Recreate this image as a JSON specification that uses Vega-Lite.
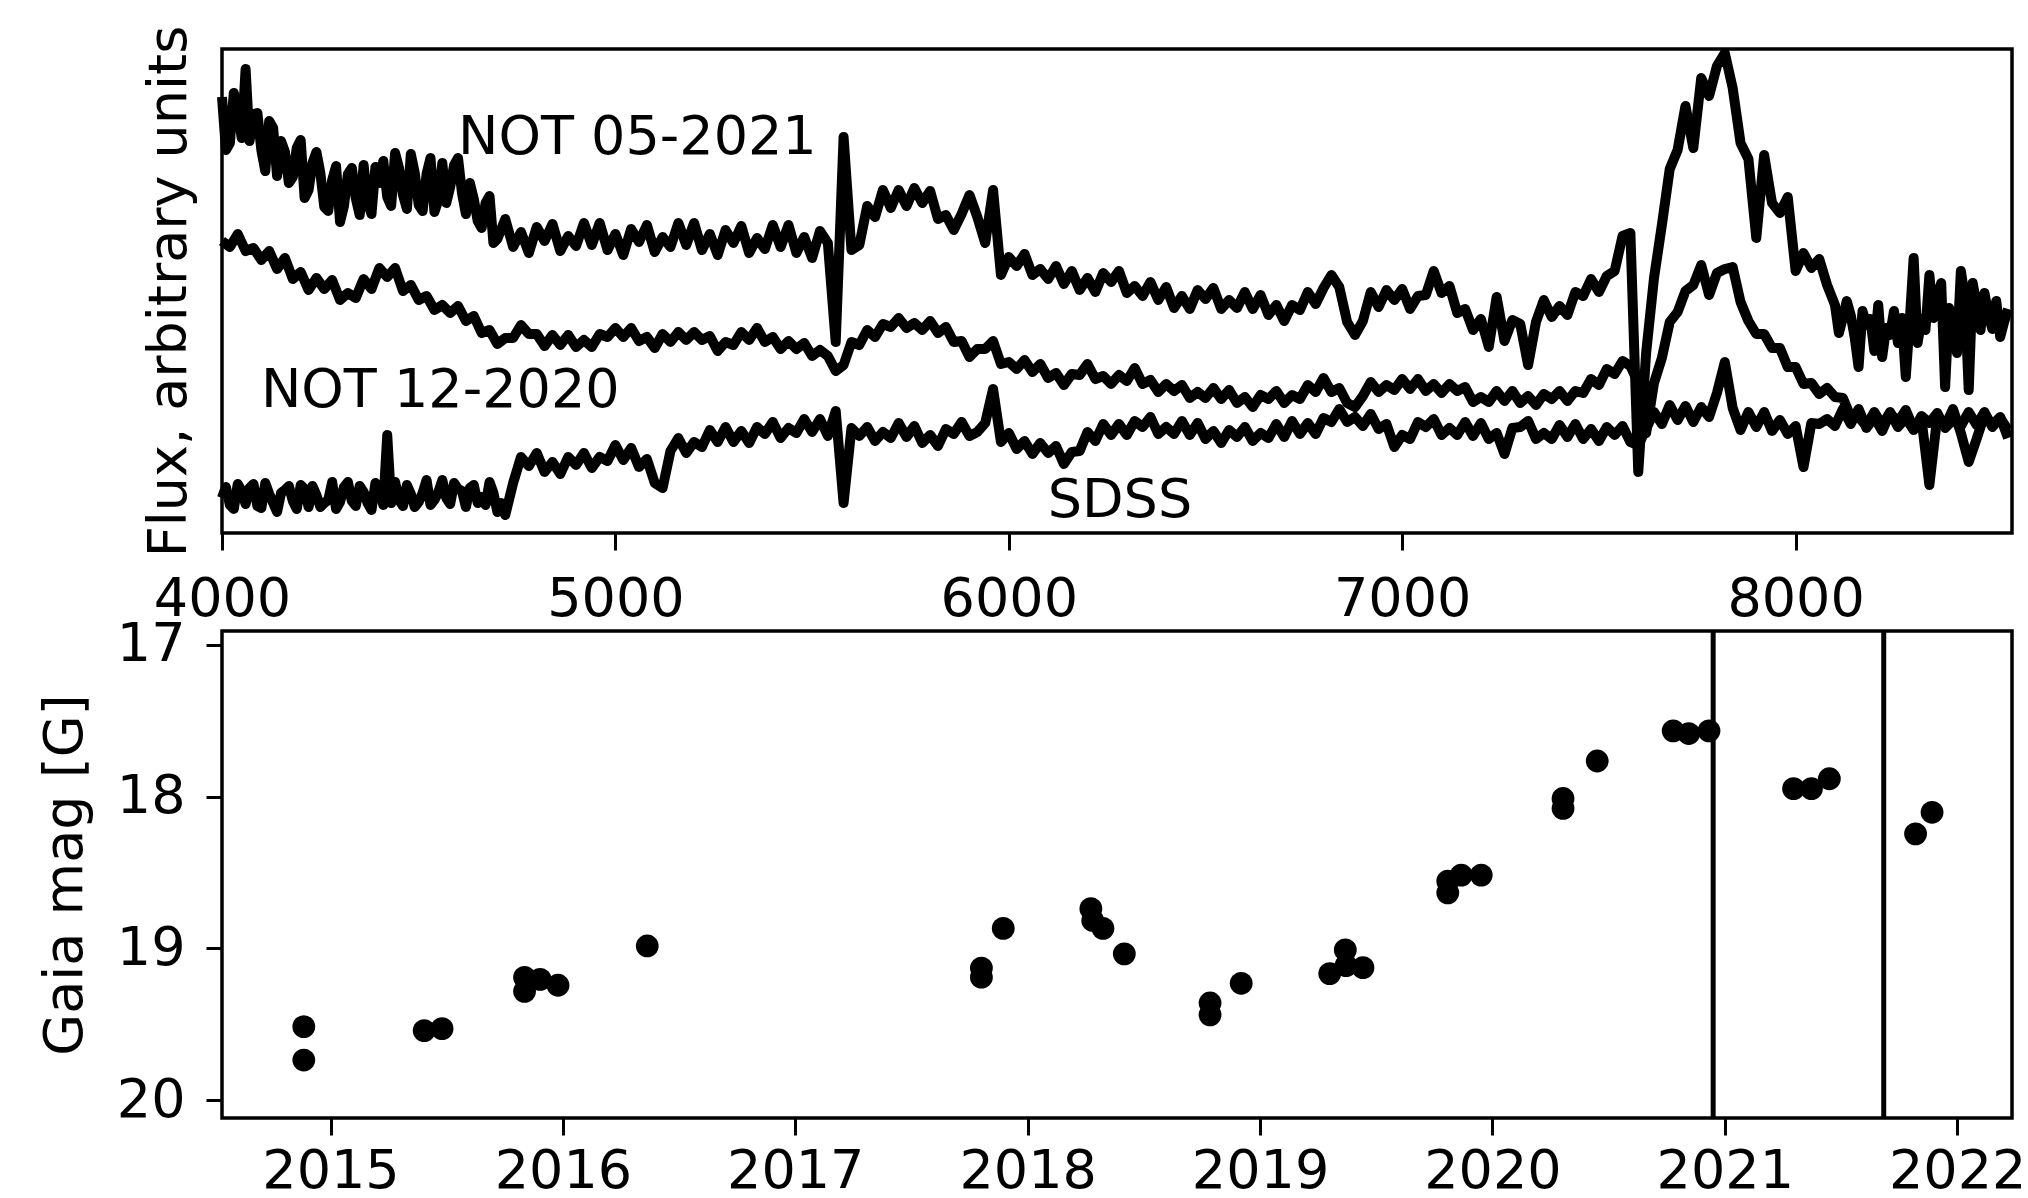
{
"$schema": "https://vega.github.io/schema/vega-lite/v6.json",
"background": "white",
"padding": {"left": 36, "top": 23, "right": 5, "bottom": 0},
"config": {
"font": "DejaVu Sans",
"view": {"stroke": "black", "strokeWidth": 3.5},
"axis": {"domain": false, "grid": false, "tickColor": "black", "tickWidth": 3, "tickSize": 17, "labelFont": "DejaVu Sans", "labelFontSize": 54, "labelColor": "black", "titleFont": "DejaVu Sans", "titleFontSize": 54, "titleFontWeight": "normal", "titleColor": "black", "labelFlush": false, "labelOverlap": false}
},
"bounds": "flush",
"spacing": 98,
"datasets": {
"spec": [
{"w":4000,"a":436,"b":292,"c":35},{"w":4010,"a":383,"c":46},{"w":4020,"a":390,"b":286,"c":28},{"w":4030,"a":440,"c":24},{"w":4040,"a":425,"b":299,"c":49},{"w":4050,"a":395,"c":42},{"w":4060,"a":464,"b":282,"c":29},{"w":4070,"a":392,"c":45},{"w":4080,"a":419,"b":285,"c":49},{"w":4090,"a":420,"c":27},{"w":4100,"a":383,"b":273,"c":25},{"w":4110,"a":362,"c":50},{"w":4120,"a":412,"b":282,"c":39},{"w":4130,"a":405,"c":30},{"w":4140,"a":357,"b":264,"c":21},{"w":4150,"a":392,"c":40},{"w":4160,"a":381,"b":275,"c":43},{"w":4170,"a":350,"c":47},{"w":4180,"a":356,"b":254,"c":32},{"w":4190,"a":385,"c":24},{"w":4200,"a":393,"b":261,"c":48},{"w":4210,"a":335,"c":44},{"w":4220,"a":343,"b":243,"c":26},{"w":4230,"a":370,"c":47},{"w":4240,"a":381,"b":255,"c":38},{"w":4250,"a":360,"c":26},{"w":4260,"a":326,"b":244,"c":30},{"w":4270,"a":322,"c":33},{"w":4280,"a":353,"b":253,"c":51},{"w":4290,"a":367,"c":24},{"w":4300,"a":311,"b":233,"c":31},{"w":4310,"a":327,"c":46},{"w":4320,"a":359,"b":240,"c":51},{"w":4330,"a":365,"c":32},{"w":4340,"a":335,"b":235,"c":27},{"w":4350,"a":318,"c":47},{"w":4360,"a":368,"b":254,"c":41},{"w":4370,"a":330,"c":30},{"w":4380,"a":319,"b":244,"c":23},{"w":4390,"a":366,"c":50},{"w":4400,"a":350,"b":265,"c":45},{"w":4410,"a":372,"c":28},{"w":4420,"a":336,"b":256,"c":98},{"w":4430,"a":327,"c":30},{"w":4440,"a":380,"b":265,"c":51},{"w":4450,"a":365,"c":33},{"w":4460,"a":338,"b":242,"c":27},{"w":4470,"a":324,"c":48},{"w":4480,"a":379,"b":248,"c":39},{"w":4490,"a":360,"c":26},{"w":4500,"a":328,"b":233,"c":31},{"w":4510,"a":322,"c":40},{"w":4520,"a":359,"b":237,"c":53},{"w":4530,"a":375,"c":28},{"w":4540,"a":321,"b":223,"c":33},{"w":4550,"a":333,"c":41},{"w":4560,"a":370,"b":228,"c":53},{"w":4570,"a":330,"c":35},{"w":4580,"a":346,"b":220,"c":29},{"w":4590,"a":368,"c":50},{"w":4600,"a":375,"b":227,"c":44},{"w":4610,"a":340,"c":42},{"w":4620,"a":319,"b":212,"c":26},{"w":4630,"a":350,"c":45},{"w":4640,"a":334,"b":217,"c":48},{"w":4650,"a":312,"c":30},{"w":4660,"a":305,"b":200,"c":36},{"w":4670,"a":330,"c":28},{"w":4680,"a":337,"b":203,"c":51},{"w":4690,"a":290,"c":40},{"w":4700,"a":294,"b":189,"c":21},{"w":4710,"c":30},{"w":4720,"a":314,"b":195,"c":18},{"w":4740,"a":286,"b":195,"c":50},{"w":4760,"a":301,"b":208,"c":76},{"w":4780,"a":280,"b":199,"c":67},{"w":4800,"a":306,"b":199,"c":80},{"w":4820,"a":292,"b":187,"c":61},{"w":4840,"a":309,"b":198,"c":71},{"w":4860,"a":282,"b":188,"c":59},{"w":4880,"a":297,"b":198,"c":76},{"w":4900,"a":287,"b":186,"c":68},{"w":4920,"a":310,"b":193,"c":80},{"w":4940,"a":288,"b":186,"c":65},{"w":4960,"a":310,"b":199,"c":76},{"w":4980,"a":283,"b":196,"c":72},{"w":5000,"a":299,"b":205,"c":88},{"w":5020,"a":278,"b":196,"c":73},{"w":5040,"a":304,"b":205,"c":85},{"w":5060,"a":291,"b":192,"c":66},{"w":5080,"a":308,"b":196,"c":74},{"w":5100,"a":281,"b":185,"c":50},{"w":5120,"a":296,"b":199,"c":45},{"w":5140,"a":286,"b":191,"c":82},{"w":5160,"a":310,"b":201,"c":95},{"w":5180,"a":288,"b":193,"c":80},{"w":5200,"a":310,"b":201,"c":91},{"w":5220,"a":283,"b":193,"c":86},{"w":5240,"a":299,"b":197,"c":103},{"w":5260,"a":278,"b":182,"c":91},{"w":5280,"a":303,"b":191,"c":106},{"w":5300,"a":290,"b":188,"c":91},{"w":5320,"a":307,"b":201,"c":102},{"w":5340,"a":280,"b":193,"c":90},{"w":5360,"a":295,"b":205,"c":106},{"w":5380,"a":284,"b":191,"c":99},{"w":5400,"a":308,"b":196,"c":111},{"w":5420,"a":286,"b":184,"c":95},{"w":5440,"a":308,"b":192,"c":105},{"w":5460,"a":280,"b":184,"c":100},{"w":5480,"a":296,"b":190,"c":114},{"w":5500,"a":275,"b":177,"c":101},{"w":5520,"a":302,"b":183,"c":114},{"w":5540,"a":290,"b":177,"c":97},{"w":5560,"a":191,"b":162,"c":122},{"w":5580,"a":396,"b":168,"c":30},{"w":5600,"a":283,"b":191,"c":105},{"w":5620,"a":288,"b":188,"c":97},{"w":5640,"a":327,"b":203,"c":106},{"w":5660,"a":316,"b":196,"c":92},{"w":5680,"a":343,"b":209,"c":101},{"w":5700,"a":325,"b":206,"c":95},{"w":5720,"a":343,"b":215,"c":110},{"w":5740,"a":327,"b":205,"c":96},{"w":5760,"a":345,"b":210,"c":107},{"w":5780,"a":330,"b":203,"c":90},{"w":5800,"a":342,"b":212,"c":98},{"w":5820,"a":314,"b":200,"c":87},{"w":5840,"a":318,"b":206,"c":104},{"w":5860,"a":303,"b":191,"c":99},{"w":5880,"a":319,"b":192,"c":111},{"w":5900,"a":338,"b":176,"c":97},{"w":5920,"a":316,"b":184,"c":101},{"w":5940,"a":290,"b":184,"c":110},{"w":5960,"a":343,"b":192,"c":144},{"w":5980,"a":258,"b":169,"c":91},{"w":6000,"a":276,"b":171,"c":100},{"w":6020,"a":267,"b":164,"c":84},{"w":6040,"a":279,"b":173,"c":92},{"w":6060,"a":258,"b":161,"c":79},{"w":6080,"a":264,"b":169,"c":90},{"w":6100,"a":254,"b":155,"c":80},{"w":6120,"a":267,"b":160,"c":87},{"w":6140,"a":249,"b":148,"c":69},{"w":6160,"a":262,"b":159,"c":81},{"w":6180,"a":243,"b":158,"c":82},{"w":6200,"a":255,"b":169,"c":101},{"w":6220,"a":241,"b":154,"c":92},{"w":6240,"a":260,"b":157,"c":109},{"w":6260,"a":251,"b":149,"c":98},{"w":6280,"a":262,"b":158,"c":109},{"w":6300,"a":240,"b":152,"c":98},{"w":6320,"a":247,"b":165,"c":112},{"w":6340,"a":237,"b":149,"c":106},{"w":6360,"a":251,"b":153,"c":116},{"w":6380,"a":233,"b":141,"c":99},{"w":6400,"a":246,"b":149,"c":106},{"w":6420,"a":225,"b":142,"c":99},{"w":6440,"a":237,"b":148,"c":112},{"w":6460,"a":224,"b":135,"c":98},{"w":6480,"a":243,"b":141,"c":110},{"w":6500,"a":234,"b":135,"c":94},{"w":6520,"a":245,"b":145,"c":102},{"w":6540,"a":224,"b":134,"c":90},{"w":6560,"a":233,"b":143,"c":103},{"w":6580,"a":225,"b":130,"c":96},{"w":6600,"a":241,"b":136,"c":106},{"w":6620,"a":224,"b":126,"c":92},{"w":6640,"a":238,"b":138,"c":100},{"w":6660,"a":218,"b":134,"c":95},{"w":6680,"a":228,"b":142,"c":109},{"w":6700,"a":212,"b":130,"c":96},{"w":6720,"a":228,"b":138,"c":112},{"w":6740,"a":223,"b":134,"c":99},{"w":6760,"a":241,"b":148,"c":110},{"w":6780,"a":229,"b":141,"c":99},{"w":6800,"a":245,"b":155,"c":115},{"w":6820,"a":258,"b":141,"c":111},{"w":6840,"a":246,"b":145,"c":124},{"w":6860,"a":211,"b":130,"c":111},{"w":6880,"a":198,"b":126,"c":116},{"w":6900,"a":212,"b":137,"c":107},{"w":6920,"a":241,"b":151,"c":119},{"w":6940,"a":226,"b":141,"c":104},{"w":6960,"a":243,"b":148,"c":109},{"w":6980,"a":233,"b":143,"c":86},{"w":7000,"a":244,"b":154,"c":98},{"w":7020,"a":224,"b":144,"c":94},{"w":7040,"a":237,"b":154,"c":111},{"w":7060,"a":238,"b":142,"c":106},{"w":7080,"a":262,"b":149,"c":114},{"w":7100,"a":240,"b":140,"c":98},{"w":7120,"a":247,"b":149,"c":105},{"w":7140,"a":220,"b":142,"c":98},{"w":7160,"a":224,"b":146,"c":111},{"w":7180,"a":203,"b":131,"c":97},{"w":7200,"a":214,"b":136,"c":110},{"w":7220,"a":186,"b":131,"c":94},{"w":7240,"a":236,"b":142,"c":100},{"w":7260,"a":192,"b":132,"c":79},{"w":7280,"a":213,"b":142,"c":105},{"w":7300,"a":209,"b":130,"c":106},{"w":7320,"a":168,"b":137,"c":112},{"w":7340,"a":211,"b":128,"c":94},{"w":7360,"a":233,"b":139,"c":100},{"w":7380,"a":216,"b":134,"c":94},{"w":7400,"a":227,"b":142,"c":108},{"w":7420,"a":218,"b":132,"c":96},{"w":7440,"a":241,"b":142,"c":109},{"w":7460,"a":237,"b":140,"c":94},{"w":7480,"a":254,"b":154,"c":104},{"w":7500,"a":241,"b":148,"c":92},{"w":7520,"a":257,"b":164,"c":106},{"w":7540,"a":262,"b":159,"c":98},{"w":7560,"a":297,"b":172,"c":107},{"w":7580,"a":300,"b":167,"c":91},{"w":7600,"a":61,"b":150,"c":88},{"w":7620,"a":180,"b":100,"c":104},{"w":7640,"a":255,"b":150,"c":121},{"w":7660,"a":308,"b":175,"c":109},{"w":7680,"a":364,"b":211,"c":128},{"w":7700,"a":383,"b":221,"c":113},{"w":7720,"a":427,"b":242,"c":127},{"w":7740,"a":385,"b":248,"c":111},{"w":7760,"a":455,"b":268,"c":126},{"w":7780,"a":437,"b":238,"c":116},{"w":7800,"a":467,"b":260,"c":140},{"w":7820,"a":480,"b":264,"c":171},{"w":7840,"a":445,"b":266,"c":125},{"w":7860,"a":390,"b":231,"c":103},{"w":7880,"a":374,"b":212,"c":121},{"w":7900,"a":295,"b":199,"c":106},{"w":7920,"a":378,"b":199,"c":121},{"w":7940,"a":330,"b":185,"c":102},{"w":7960,"a":320,"b":185,"c":113},{"w":7980,"a":336,"b":166,"c":99},{"w":8000,"a":262,"b":166,"c":107},{"w":8020,"a":280,"b":149,"c":66},{"w":8040,"a":265,"b":150,"c":110},{"w":8060,"a":274,"b":139,"c":109},{"w":8080,"a":248,"b":145,"c":114},{"w":8100,"a":228,"b":136,"c":107},{"w":8110,"a":200},{"w":8120,"a":215,"b":135,"c":124},{"w":8130,"a":232},{"w":8140,"a":218,"b":116,"c":109},{"w":8150,"a":196},{"w":8160,"a":166,"b":116,"c":124},{"w":8170,"a":222},{"w":8180,"a":208,"b":107,"c":105},{"w":8190,"a":214},{"w":8200,"a":182,"b":121,"c":116},{"w":8210,"a":228},{"w":8220,"a":176,"b":108,"c":102},{"w":8230,"a":205},{"w":8240,"a":198,"b":121,"c":120},{"w":8250,"a":222},{"w":8260,"a":190,"b":106,"c":111},{"w":8270,"a":215},{"w":8280,"a":156,"b":115,"c":123},{"w":8290,"a":212},{"w":8300,"a":275,"b":103,"c":104},{"w":8310,"a":190},{"w":8320,"a":214,"b":117,"c":114},{"w":8330,"a":203},{"w":8340,"a":258,"b":110,"c":48},{"w":8350,"a":215},{"w":8360,"a":236,"b":120,"c":116},{"w":8370,"a":250},{"w":8380,"a":146,"b":105,"c":107},{"w":8390,"a":225},{"w":8400,"a":214,"b":113,"c":124},{"w":8410,"a":180},{"w":8420,"a":262,"b":107,"c":100},{"w":8430,"a":236},{"w":8440,"a":143,"b":121,"c":71},{"w":8450,"a":250},{"w":8460,"a":228,"b":108,"c":94},{"w":8470,"a":203},{"w":8480,"a":240,"b":121,"c":118},{"w":8490,"a":218},{"w":8500,"a":204,"b":106,"c":108},{"w":8510,"a":232},{"w":8520,"a":196,"b":115,"c":116},{"w":8530,"a":211},{"w":8540,"a":224,"b":103,"c":95}
],
"labels": [
{"w":4600,"f":379,"t":"NOT 05-2021"},
{"w":4099,"f":126,"t":"NOT 12-2020"},
{"w":6099,"f":16,"t":"SDSS"}
],
"gaia": [
{"yr":2014.885,"mag":19.516},{"yr":2014.885,"mag":19.736},{"yr":2015.403,"mag":19.542},{"yr":2015.48,"mag":19.529},{"yr":2015.835,"mag":19.191},{"yr":2015.835,"mag":19.283},{"yr":2015.902,"mag":19.204},{"yr":2015.979,"mag":19.243},{"yr":2016.363,"mag":18.984},{"yr":2017.801,"mag":19.13},{"yr":2017.801,"mag":19.19},{"yr":2017.895,"mag":18.868},{"yr":2018.272,"mag":18.738},{"yr":2018.28,"mag":18.816},{"yr":2018.324,"mag":18.868},{"yr":2018.416,"mag":19.036},{"yr":2018.785,"mag":19.36},{"yr":2018.785,"mag":19.438},{"yr":2018.919,"mag":19.23},{"yr":2019.3,"mag":19.166},{"yr":2019.367,"mag":19.01},{"yr":2019.37,"mag":19.114},{"yr":2019.443,"mag":19.127},{"yr":2019.808,"mag":18.634},{"yr":2019.808,"mag":18.557},{"yr":2019.866,"mag":18.517},{"yr":2019.952,"mag":18.517},{"yr":2020.304,"mag":18.012},{"yr":2020.304,"mag":18.077},{"yr":2020.451,"mag":17.765},{"yr":2020.778,"mag":17.566},{"yr":2020.845,"mag":17.584},{"yr":2020.932,"mag":17.566},{"yr":2021.296,"mag":17.947},{"yr":2021.373,"mag":17.947},{"yr":2021.45,"mag":17.882},{"yr":2021.821,"mag":18.245},{"yr":2021.892,"mag":18.103}
],
"obs": [{"yr":2020.95},{"yr":2021.684}]
},
"vconcat": [
{
"width": 1790,
"height": 484,
"encoding": {
"x": {"field": "w", "type": "quantitative", "scale": {"domain": [4000, 8550], "nice": false, "zero": false}, "axis": {"values": [4000, 5000, 6000, 7000, 8000], "format": "d", "title": null, "labelPadding": 22}},
"y": {"field": "f", "type": "quantitative", "scale": {"domain": [0, 484], "nice": false, "zero": false}, "axis": {"title": "Flux, arbitrary units", "labels": false, "ticks": false, "titlePadding": 26}}
},
"layer": [
{
"data": {"name": "spec"},
"transform": [{"fold": ["a", "b", "c"], "as": ["s", "f"]}, {"filter": {"field": "f", "valid": true}}],
"mark": {"type": "line", "color": "black", "strokeWidth": 10, "strokeJoin": "round", "invalid": "filter"},
"encoding": {"detail": {"field": "s", "type": "nominal"}}
},
{
"data": {"name": "labels"},
"mark": {"type": "text", "align": "left", "baseline": "alphabetic", "fontSize": 54, "font": "DejaVu Sans", "color": "black"},
"encoding": {"text": {"field": "t", "type": "nominal"}}
}
]
},
{
"width": 1790,
"height": 487,
"encoding": {
"x": {"field": "yr", "type": "quantitative", "scale": {"domain": [2014.533, 2022.236], "nice": false, "zero": false}, "axis": {"values": [2015, 2016, 2017, 2018, 2019, 2020, 2021, 2022], "format": "d", "title": null, "labelPadding": 9}}
},
"layer": [
{
"data": {"name": "gaia"},
"mark": {"type": "circle", "size": 520, "color": "black", "opacity": 1},
"encoding": {
"y": {"field": "mag", "type": "quantitative", "scale": {"domain": [16.908, 20.118], "nice": false, "zero": false, "reverse": true}, "axis": {"values": [17, 18, 19, 20], "format": "d", "title": "Gaia mag [G]", "labelPadding": 21, "tickSize": 16, "titlePadding": 24}}
}
},
{
"data": {"name": "obs"},
"mark": {"type": "rule", "color": "black", "strokeWidth": 5},
"encoding": {}
}
]
}
]
}
